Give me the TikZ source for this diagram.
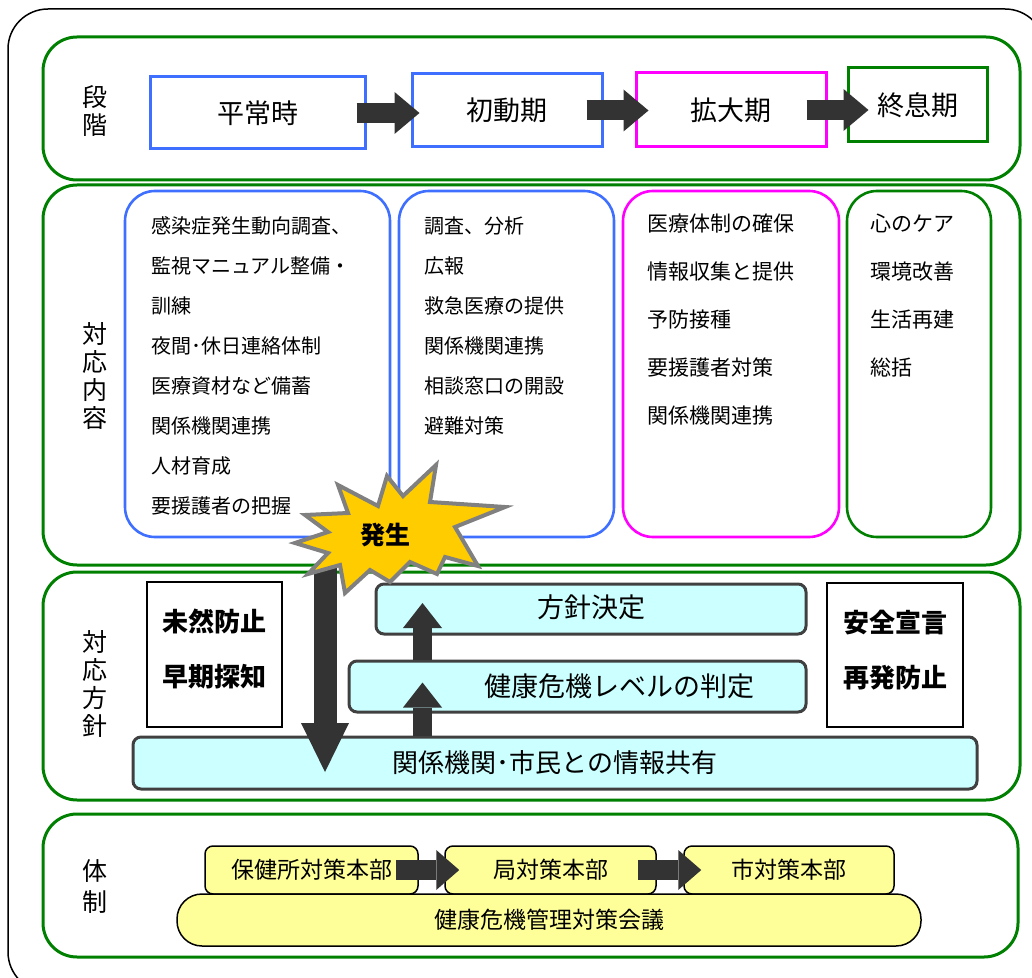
\documentclass[tikz,border=0pt]{standalone}
\usepackage{fontspec}
\setmainfont{Noto Sans CJK JP}
\usepackage{tikz}
\usetikzlibrary{arrows.meta}
\usetikzlibrary{fit}
\usetikzlibrary{calc}

\definecolor{zonegreen}{HTML}{008000}
\definecolor{phaseblue}{HTML}{3F6FFF}
\definecolor{phasepink}{HTML}{FF00FF}
\definecolor{arrowgray}{HTML}{333333}
\definecolor{policycyan}{HTML}{CCFFFF}
\definecolor{policyedge}{HTML}{404040}
\definecolor{orgyellow}{HTML}{FFFF99}
\definecolor{burstyellow}{HTML}{FFCC00}
\definecolor{burstgray}{HTML}{808080}

\tikzset{
  zone/.style={draw=zonegreen, line width=1.5pt, rounded corners=17pt, inner sep=0pt},
  phasebox/.style={draw=#1, line width=1.5pt, inner sep=0pt},
  phasetext/.style={inner sep=0pt, font=\fontsize{13.5}{16}\selectfont},
  taskbox/.style={draw=#1, line width=1.3pt, rounded corners=15pt, inner sep=0pt},
  task/.style={anchor=west, inner sep=0pt, font=\fontsize{10}{12}\selectfont},
  widetask/.style={task, font=\fontsize{10.5}{12}\selectfont},
  sidelabel/.style={align=center, inner sep=0pt, font=\fontsize{12.5}{14}\selectfont},
  goalbox/.style={draw, line width=1pt, inner sep=0pt},
  goaltext/.style={align=center, inner sep=0pt, font=\bfseries\fontsize{13}{27.5}\selectfont},
  policy/.style={draw=policyedge, fill=policycyan, line width=1.5pt, rounded corners=4pt, inner sep=0pt},
  policytext/.style={inner sep=0pt, font=\fontsize{13.5}{16}\selectfont},
  org/.style={draw, fill=orgyellow, line width=0.75pt, rounded corners=4pt, inner sep=0pt},
  orgtext/.style={inner sep=0pt, font=\fontsize{11.5}{14}\selectfont},
  phasearrow/.style={draw=arrowgray, line width=10pt, -{Triangle[width=21pt,length=12.5pt,line width=0pt]}},
  uparrow/.style={draw=arrowgray, line width=9.5pt, -{Triangle[width=19.5pt,length=12.5pt,line width=0pt]}},
  downarrow/.style={draw=arrowgray, line width=11.5pt, -{Triangle[width=24pt,length=24.5pt,line width=0pt]}},
  orgarrow/.style={draw=arrowgray, line width=10pt, -{Triangle[width=20pt,length=11.5pt,line width=0pt]}},
  burst/.style={draw=burstgray, fill=burstyellow, line width=2pt, line join=miter}
}

\begin{document}
\begin{tikzpicture}[x=0.5pt, y=-0.5pt]
    \useasboundingbox (0,0) rectangle (1032,978);
    \draw [line width=0.75pt, rounded corners=20pt] (8,9) rectangle (1045,992);

    % zones
    \node [zone, fit={(43,37) (1020,180)}] (stage) {};
    \node [zone, fit={(43,185) (1020,565)}] (content) {};
    \node [zone, fit={(43,572) (1020,800)}] (course) {};
    \node [zone, fit={(43,814) (1018,957)}] (system) {};
    \node [sidelabel] (lstage) at (95,111) {段\\階};
    \node [sidelabel] (lcontent) at (95,376) {対\\応\\内\\容};
    \node [sidelabel] (lcourse) at (95,684) {対\\応\\方\\針};
    \node [sidelabel, font=\fontsize{12.5}{15.5}\selectfont] (lsystem) at (95,887) {体\\制};

    % phases
    \node [phasebox=phaseblue, fit={(150,77) (365,149)}, label={[phasetext]center:平常時}] (normal) {};
    \node [phasebox=phaseblue, fit={(412,74) (602,147)}, label={[phasetext]center:初動期}] (first) {};
    \node [phasebox=phasepink, fit={(636,73) (826,147)}, label={[phasetext]center:拡大期}] (expand) {};
    \node [phasebox=zonegreen, fit={(848,68) (987,142)}, label={[phasetext]center:終息期}] (close) {};
    \draw [phasearrow] ([xshift=-5pt]normal.east) -- ([xshift=4.5pt]normal.east -| first.west);
    \draw [phasearrow] ([xshift=-8.5pt]first.east) -- ([xshift=7pt]first.east -| expand.west);
    \draw [phasearrow] ([xshift=-10.5pt]expand.east) -- ([xshift=11pt]expand.east -| close.west);

    % tasks
    \node [taskbox=phaseblue, fit={(125,191) (390,537)}] (prep) {};
    \node [taskbox=phaseblue, fit={(399,191) (614,537)}] (act) {};
    \node [taskbox=phasepink, fit={(623,191) (839,537)}] (spread) {};
    \node [taskbox=zonegreen, fit={(847,191) (991,537)}] (recover) {};
    \foreach \t [count=\i] in {感染症発生動向調査、,監視マニュアル整備・,訓練,夜間･休日連絡体制,医療資材など備蓄,関係機関連携,人材育成,要援護者の把握}
        \node [task] (prep\i) at ($(prep.north west)+(27,36+40*\i-40)$) {\t};
    \foreach \t [count=\i] in {調査、分析,広報,救急医療の提供,関係機関連携,相談窓口の開設,避難対策}
        \node [task] (act\i) at ($(act.north west)+(26,36+40*\i-40)$) {\t};
    \foreach \t [count=\i] in {医療体制の確保,情報収集と提供,予防接種,要援護者対策,関係機関連携}
        \node [widetask] (spread\i) at ($(spread.north west)+(25,34+48*\i-48)$) {\t};
    \foreach \t [count=\i] in {心のケア,環境改善,生活再建,総括}
        \node [widetask] (recover\i) at ($(recover.north west)+(24,34+48*\i-48)$) {\t};

    % course
    \node [goalbox, fit={(147,582) (282,727)}] (prevent) {};
    \node [goaltext] (preventtxt) at ([yshift=2.5pt]prevent.center) {未然防止\\早期探知};
    \node [goalbox, fit={(827,583) (963,727)}] (safe) {};
    \node [goaltext] (safetxt) at ([yshift=2.5pt]safe.center) {安全宣言\\再発防止};
    \node [policy, fit={(376,584) (806,634)}] (plan) {};
    \node [policytext] (plantxt) at ([yshift=1pt]plan.center) {方針決定};
    \node [policy, fit={(349,661) (806,712)}] (level) {};
    \node [policytext] (leveltxt) at ([xshift=21pt]level.center) {健康危機レベルの判定};
    \node [policy, fit={(133,737) (977,789)}] (share) {};
    \node [policytext, font=\fontsize{13}{16}\selectfont] (sharetxt) at (share.center) {関係機関･市民との情報共有};
    \coordinate (upx) at (422.5,0);
    \draw [uparrow] (level.north -| upx) -- ([yshift=3pt]plan.center -| upx);
    \draw [uparrow] (share.north -| upx) -- ([yshift=2pt]level.center -| upx);
    \coordinate (dtop) at (325,565);
    \coordinate (dtip) at (325,772);
    \draw [downarrow] (dtop) -- (dtip);

    % onset
    \draw [burst] (436,465) -- (430,502) -- (505,507) -- (455,527) -- (478,566) -- (445,557)
        -- (437,574) -- (410,562) -- (390,582) -- (370,570) -- (345,593) -- (340,565)
        -- (308,574) -- (328,553) -- (295,543) -- (328,532) -- (305,515) -- (348,513)
        -- (338,485) -- (378,506) -- (387,476) -- (403,496) -- cycle;
    \node [inner sep=0pt, font=\bfseries\fontsize{12.5}{14}\selectfont] (onset) at (385,535) {発生};

    % system
    \node [org, fit={(205,846) (418,894)}, label={[orgtext]center:保健所対策本部}] (ward) {};
    \node [org, fit={(445,846) (656,894)}, label={[orgtext]center:局対策本部}] (bureau) {};
    \node [org, fit={(684,846) (894,894)}, label={[orgtext]center:市対策本部}] (city) {};
    \node [org, rounded corners=12.5pt, fit={(177,894) (921,946)}, label={[orgtext]center:健康危機管理対策会議}] (council) {};
    \draw [orgarrow] ([xshift=-11.5pt]ward.east) -- ([xshift=7.5pt]bureau.west);
    \draw [orgarrow] ([xshift=-9.5pt]bureau.east) -- ([xshift=9pt]city.west);
\end{tikzpicture}
\end{document}
